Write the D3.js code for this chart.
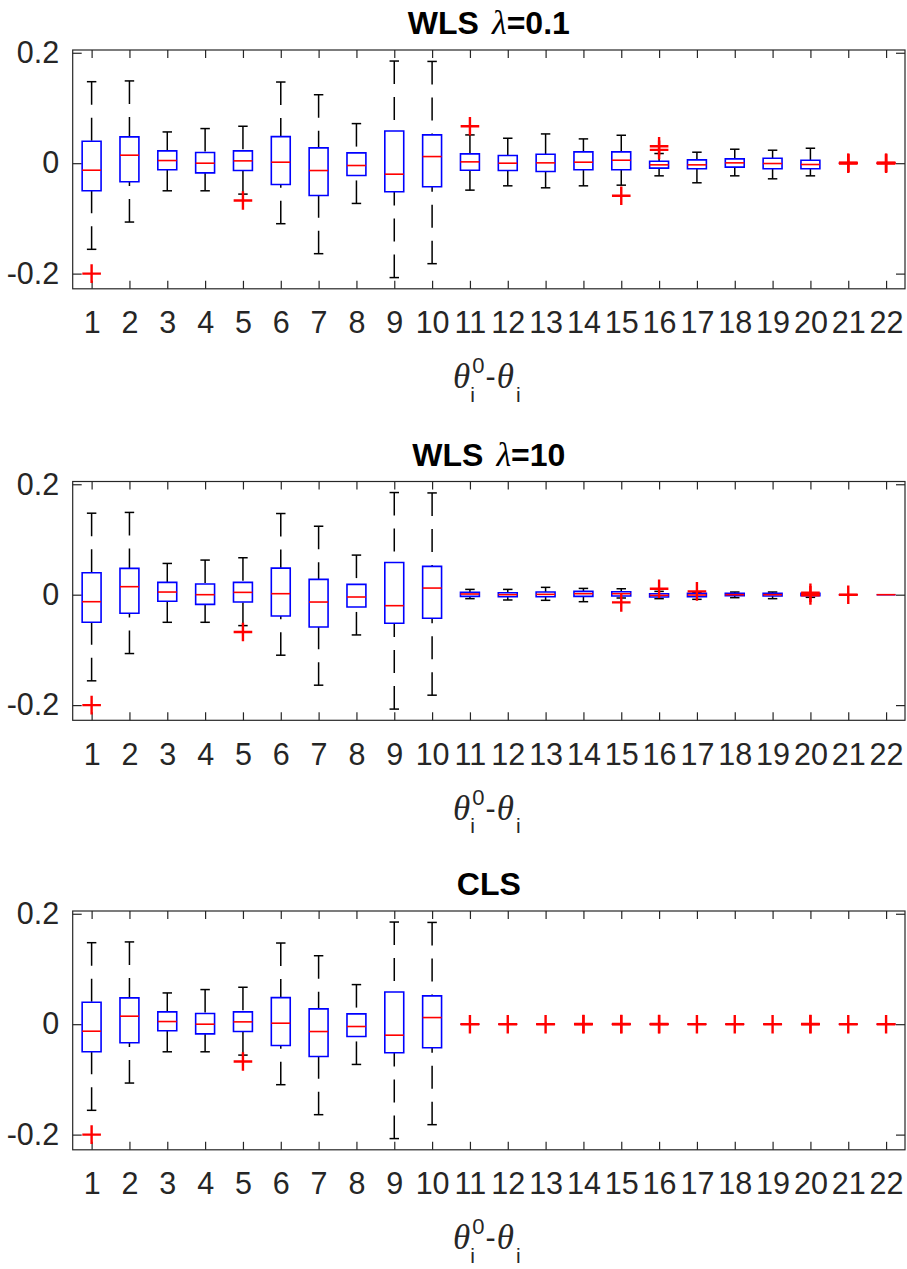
<!DOCTYPE html>
<html>
<head>
<meta charset="utf-8">
<script src="https://cdn.jsdelivr.net/npm/d3@7"></script>
<style>
  body { margin: 0; background: #fff; }
  svg { display: block; }
</style>
</head>
<body>
<svg id="chart" width="907" height="1269"></svg>
<script>
// categories / tick labels
const categories = d3.range(1, 23).map(String);
const yTicks = [-0.2, 0, 0.2];
const titles = ["WLS", "WLS", "CLS"];
const lambdas = ["0.1", "10", null];

// boxes 1..10 look the same in all three panels
const headLow  = [-0.156, -0.1066, -0.050, -0.050, -0.056, -0.1096, -0.1639, -0.0729, -0.2072, -0.182];
const headQ1   = [-0.050, -0.0337, -0.012, -0.0175, -0.0133, -0.0386, -0.0584, -0.0223, -0.0518, -0.0428];
const headMed  = [-0.0127, 0.0145, 0.0048, 0.0, 0.0042, 0.0018, -0.0133, -0.0042, -0.0199, 0.012];
const headQ3   = [0.0398, 0.0476, 0.0223, 0.0193, 0.0223, 0.0482, 0.0277, 0.0187, 0.0584, 0.0512];
const headHigh = [0.1476, 0.149, 0.0566, 0.0627, 0.0669, 0.147, 0.124, 0.0717, 0.185, 0.1843];
const headOut  = [[-0.2], [], [], [], [-0.0675], [], [], [], [], []];

// boxes 11..22, WLS lambda=0.1
const wlsALow  = [-0.0488, -0.041, -0.0446, -0.041, -0.0398, -0.0229, -0.0355, -0.0229, -0.0283, -0.0229, 0, 0];
const wlsAQ1   = [-0.0127, -0.0133, -0.015, -0.012, -0.012, -0.009, -0.0102, -0.0072, -0.0102, -0.0102, 0, 0];
const wlsAMed  = [0.0024, 0.0, 0.0006, 0.0018, 0.0054, -0.003, -0.003, 0.0006, -0.0006, -0.0024, 0, 0];
const wlsAQ3   = [0.0169, 0.0139, 0.0163, 0.0205, 0.0205, 0.0036, 0.006, 0.0078, 0.009, 0.0054, 0, 0];
const wlsAHigh = [0.0512, 0.0452, 0.053, 0.044, 0.0506, 0.0175, 0.0199, 0.0253, 0.0235, 0.0271, 0, 0];
const wlsAOut  = [[0.0669], [], [], [], [-0.059], [0.0241, 0.0307], [], [], [], [], [-0.0008, 0.0004, 0.0008], [-0.0008, 0.0004, 0.0008]];

// boxes 11..22, WLS lambda=10
const wlsBLow  = [-0.0072, -0.0096, -0.0102, -0.0127, -0.006, -0.0072, -0.0084, -0.0054, -0.0072, -0.0048, 0, 0];
const wlsBQ1   = [-0.003, -0.0036, -0.0036, -0.003, -0.0024, -0.0042, -0.0036, -0.0018, -0.0024, -0.0018, 0, 0];
const wlsBMed  = [0.0012, 0.0, 0.0006, 0.0018, 0.0018, -0.0012, -0.0006, 0.0, 0.0, 0.0, 0, 0];
const wlsBQ3   = [0.0042, 0.0036, 0.0048, 0.006, 0.0054, 0.0018, 0.0024, 0.0024, 0.0024, 0.0024, 0, 0];
const wlsBHigh = [0.0096, 0.0096, 0.0133, 0.0114, 0.0108, 0.006, 0.0042, 0.0048, 0.0048, 0.003, 0, 0];
const wlsBOut  = [[], [], [], [], [-0.0139], [0.0108], [0.006], [], [], [0.0036, -0.0012], [0], []];

// boxes 11..22, CLS (collapsed boxes, only outliers near zero)
const clsLow  = [0, 0, 0, 0, 0, 0, 0, 0, 0, 0, 0, 0];
const clsQ1   = [0, 0, 0, 0, 0, 0, 0, 0, 0, 0, 0, 0];
const clsMed  = [0, 0, 0, 0, 0, 0, 0, 0, 0, 0, 0, 0];
const clsQ3   = [0, 0, 0, 0, 0, 0, 0, 0, 0, 0, 0, 0];
const clsHigh = [0, 0, 0, 0, 0, 0, 0, 0, 0, 0, 0, 0];
const clsOut  = [[0], [0], [0], [0, 0.0004], [0, 0.0004], [0, 0.0004], [0], [0], [0], [0, 0.0004], [0], [0]];

function buildBoxes(low, q1, med, q3, high, out) {
  return categories.map((c, i) => {
    const src = i < 10
      ? [headLow[i], headQ1[i], headMed[i], headQ3[i], headHigh[i], headOut[i]]
      : [low[i - 10], q1[i - 10], med[i - 10], q3[i - 10], high[i - 10], out[i - 10]];
    return { cat: c, low: src[0], q1: src[1], med: src[2], q3: src[3], high: src[4], out: src[5] };
  });
}

const panels = [
  buildBoxes(wlsALow, wlsAQ1, wlsAMed, wlsAQ3, wlsAHigh, wlsAOut),
  buildBoxes(wlsBLow, wlsBQ1, wlsBMed, wlsBQ3, wlsBHigh, wlsBOut),
  buildBoxes(clsLow, clsQ1, clsMed, clsQ3, clsHigh, clsOut)
];

const svg = d3.select("#chart");
const axisColor = "#262626";
const sans = "'Liberation Sans', Arial, Helvetica, sans-serif";
const serif = "'Liberation Serif', 'Times New Roman', serif";

const left = 72.7, right = 905;
const panelTops = [50, 481.5, 911];
const panelH = 238.8;

const x = d3.scalePoint().domain(categories).range([left, right]).padding(0.5);
const step = x.step();
const boxW = step * 0.5;

panels.forEach((boxes, p) => {
  const top = panelTops[p], bottom = top + panelH;
  const y = d3.scaleLinear().domain([-0.2275, 0.205]).range([bottom, top]);
  const g = svg.append("g");

  // frame
  g.append("rect")
    .attr("x", left).attr("y", top)
    .attr("width", right - left).attr("height", panelH)
    .attr("fill", "none").attr("stroke", axisColor).attr("stroke-width", 1.2);

  // axes: ticks inside on all four sides
  const xb = g.append("g").attr("transform", `translate(0,${bottom})`)
    .call(d3.axisBottom(x).tickSize(-8).tickPadding(23));
  const xt = g.append("g").attr("transform", `translate(0,${top})`)
    .call(d3.axisTop(x).tickSize(-8).tickFormat(""));
  const yl = g.append("g").attr("transform", `translate(${left},0)`)
    .call(d3.axisLeft(y).tickValues(yTicks).tickSize(-9).tickPadding(13.5).tickFormat(d => d === 0 ? "0" : d3.format(".1f")(d).replace("−", "-")));
  const yr = g.append("g").attr("transform", `translate(${right},0)`)
    .call(d3.axisRight(y).tickValues(yTicks).tickSize(-9).tickFormat(""));

  [xb, xt, yl, yr].forEach(a => {
    a.select(".domain").remove();
    a.selectAll("line").attr("stroke", axisColor).attr("stroke-width", 1.2);
    a.selectAll("text").attr("fill", axisColor)
      .attr("font-family", sans).attr("font-size", 30.5);
  });

  // title
  const t = g.append("text")
    .attr("x", (left + right) / 2).attr("y", top - 16)
    .attr("text-anchor", "middle")
    .attr("font-family", sans).attr("font-size", 32).attr("font-weight", "bold")
    .attr("fill", "#000");
  t.append("tspan").text(titles[p]);
  if (lambdas[p]) {
    t.append("tspan").attr("font-family", serif).attr("font-weight", "normal")
      .attr("font-style", "italic").attr("font-size", 34).attr("dx", 13).text("λ");
    t.append("tspan").text("=" + lambdas[p]);
  }

  // boxes
  const bx = g.append("g").selectAll("g").data(boxes).join("g");

  // whiskers, dashes start from the cap
  bx.each(function(d) {
    const sel = d3.select(this);
    const cx = x(d.cat);
    [[d.high, d.q3], [d.low, d.q1]].forEach(([end, edge]) => {
      if (end === edge) return;
      sel.append("line")
        .attr("x1", cx).attr("x2", cx)
        .attr("y1", y(end)).attr("y2", y(edge))
        .attr("stroke", "#000").attr("stroke-width", 1.5)
        .attr("stroke-dasharray", "23,13");
      sel.append("line")
        .attr("x1", cx - boxW / 4).attr("x2", cx + boxW / 4)
        .attr("y1", y(end)).attr("y2", y(end))
        .attr("stroke", "#000").attr("stroke-width", 1.5);
    });
  });

  bx.append("path")
    .attr("d", d => {
      const x0 = x(d.cat) - boxW / 2, x1 = x(d.cat) + boxW / 2;
      return `M${x0},${y(d.q1)}H${x1}V${y(d.q3)}H${x0}Z`;
    })
    .attr("fill", "none").attr("stroke", "#0000ff").attr("stroke-width", 1.6);

  bx.append("line")
    .attr("x1", d => x(d.cat) - boxW / 2).attr("x2", d => x(d.cat) + boxW / 2)
    .attr("y1", d => y(d.med)).attr("y2", d => y(d.med))
    .attr("stroke", "#ff0000").attr("stroke-width", 1.6);

  // outliers as red '+'
  const arm = 9.3;
  bx.selectAll("path.out")
    .data(d => d.out.map(v => ({ cat: d.cat, v })))
    .join("path")
    .attr("class", "out")
    .attr("d", o => {
      const cx = x(o.cat), cy = y(o.v);
      return `M${cx - arm},${cy}H${cx + arm}M${cx},${cy - arm}V${cy + arm}`;
    })
    .attr("fill", "none").attr("stroke", "#ff0000").attr("stroke-width", 2.4);

  // x label: theta_i^0 - theta_i
  const lab = g.append("g");
  const base = bottom + 99.5;
  let cur = 0;
  function piece(txt, opts) {
    return lab.append("text").text(txt)
      .attr("font-family", opts.serif ? serif : sans)
      .attr("font-style", opts.serif ? "italic" : "normal")
      .attr("font-size", opts.size)
      .attr("fill", axisColor);
  }
  const th1 = piece("θ", { serif: true, size: 35 });
  const sup = piece("0", { size: 22 });
  const sub1 = piece("i", { size: 21 });
  const dash = piece("-", { size: 30.5 });
  const th2 = piece("θ", { serif: true, size: 35 });
  const sub2 = piece("i", { size: 21 });

  const w = el => el.node().getComputedTextLength();
  th1.attr("x", cur).attr("y", base); cur += w(th1);
  sup.attr("x", cur + 2).attr("y", base - 15);
  sub1.attr("x", cur).attr("y", base + 13.5);
  cur += Math.max(w(sup), w(sub1)) + 3;
  dash.attr("x", cur).attr("y", base - 1); cur += w(dash) + 1;
  th2.attr("x", cur).attr("y", base); cur += w(th2);
  sub2.attr("x", cur + 2).attr("y", base + 13.5); cur += w(sub2) + 2;
  lab.attr("transform", `translate(${(left + right) / 2 - cur / 2 - 2},0)`);
});
</script>
</body>
</html>
